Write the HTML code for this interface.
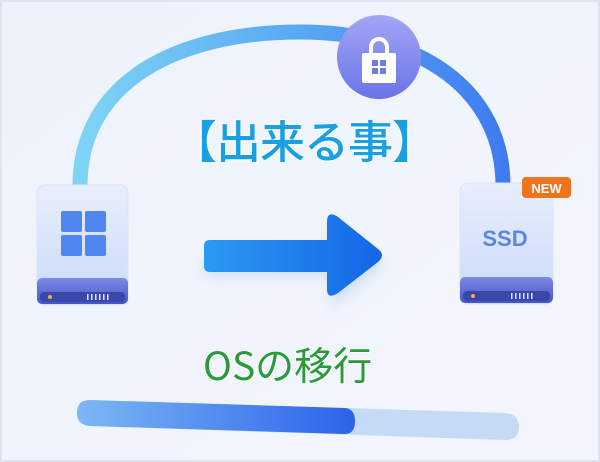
<!DOCTYPE html>
<html><head><meta charset="utf-8"><style>
html,body{margin:0;padding:0}
body{width:600px;height:462px;overflow:hidden;background:#eef3fb;position:relative;font-family:"Liberation Sans","Noto Sans CJK JP",sans-serif}
.t{position:absolute;white-space:nowrap}
</style></head><body>
<svg width="600" height="462" style="position:absolute;left:0;top:0">
<defs>
<linearGradient id="bg" x1="0" y1="0" x2="1" y2="1"><stop offset="0" stop-color="#eef2fb"/><stop offset="1" stop-color="#f3f6fc"/></linearGradient>
<linearGradient id="arc" x1="0" y1="0" x2="1" y2="0"><stop offset="0" stop-color="#7fd4f5"/><stop offset="0.5" stop-color="#5aaaf3"/><stop offset="1" stop-color="#3f7cf0"/></linearGradient>
<linearGradient id="lock" x1="0" y1="0" x2="0" y2="1"><stop offset="0" stop-color="#a3a6f5"/><stop offset="1" stop-color="#6b74e8"/></linearGradient>
<linearGradient id="drv" x1="0" y1="0" x2="0" y2="1"><stop offset="0" stop-color="#e8eefc"/><stop offset="1" stop-color="#cbdaf8"/></linearGradient>
<linearGradient id="base" x1="0" y1="0" x2="0" y2="1"><stop offset="0" stop-color="#7d89e6"/><stop offset="1" stop-color="#4655c4"/></linearGradient>
<linearGradient id="arr" x1="0" y1="0" x2="1" y2="0"><stop offset="0" stop-color="#2b9af0"/><stop offset="1" stop-color="#1466e6"/></linearGradient>
<linearGradient id="bar" x1="0" y1="0" x2="1" y2="0"><stop offset="0" stop-color="#7cb8f4"/><stop offset="1" stop-color="#2a63ea"/></linearGradient>
<filter id="sh" x="-30%" y="-30%" width="160%" height="160%"><feGaussianBlur stdDeviation="6"/></filter>
</defs>
<rect x="0" y="0" width="600" height="462" fill="url(#bg)"/>
<rect x="1" y="1" width="598" height="460" fill="none" stroke="#dfe5ef" stroke-width="2"/>
<path d="M80 186 C80 80 180 32 300 32 C420 32 503 90 503 186" fill="none" stroke="url(#arc)" stroke-width="15"/>
<circle cx="379" cy="57" r="42" fill="url(#lock)"/>
<path d="M371 54 v-7 a8 8 0 0 1 16 0 v7" fill="none" stroke="#fff" stroke-width="4"/>
<rect x="362" y="53" width="34" height="30" rx="2" fill="#fff"/>
<rect x="372" y="60" width="6" height="6" fill="#7079e8"/><rect x="380" y="60" width="6" height="6" fill="#7079e8"/>
<rect x="372" y="68" width="6" height="6" fill="#7079e8"/><rect x="380" y="68" width="6" height="6" fill="#7079e8"/>
<rect x="37" y="185" width="91" height="120" rx="8" fill="url(#drv)" stroke="#dbe4f7"/>
<rect x="37" y="278" width="91" height="26" rx="5" fill="url(#base)"/>
<rect x="40" y="292" width="85" height="10" rx="4" fill="#3a47a8"/>
<circle cx="50" cy="297" r="2" fill="#f0b040"/>
<g fill="#dfe6ff"><rect x="87" y="294" width="1.5" height="6"/><rect x="91" y="294" width="1.5" height="6"/><rect x="95" y="294" width="1.5" height="6"/><rect x="99" y="294" width="1.5" height="6"/><rect x="103" y="294" width="1.5" height="6"/><rect x="107" y="294" width="1.5" height="6"/></g>
<g fill="#4f86ef"><rect x="61" y="211" width="21" height="21" rx="2"/><rect x="85" y="211" width="21" height="21" rx="2"/><rect x="61" y="235" width="21" height="21" rx="2"/><rect x="85" y="235" width="21" height="21" rx="2"/></g>
<rect x="460" y="183" width="93" height="121" rx="8" fill="url(#drv)" stroke="#dbe4f7"/>
<rect x="460" y="277" width="93" height="26" rx="5" fill="url(#base)"/>
<rect x="463" y="291" width="87" height="10" rx="4" fill="#3a47a8"/>
<circle cx="473" cy="296" r="2" fill="#f0b040"/>
<g fill="#dfe6ff"><rect x="511" y="293" width="1.5" height="6"/><rect x="515" y="293" width="1.5" height="6"/><rect x="519" y="293" width="1.5" height="6"/><rect x="523" y="293" width="1.5" height="6"/><rect x="527" y="293" width="1.5" height="6"/><rect x="531" y="293" width="1.5" height="6"/></g>
<text x="505" y="246" text-anchor="middle" font-family="Liberation Sans" font-weight="bold" font-size="22" fill="#5c86e4">SSD</text>
<rect x="522" y="177" width="49" height="21" rx="4" fill="#f0731e"/>
<text x="546.5" y="193" text-anchor="middle" font-family="Liberation Sans" font-weight="bold" font-size="13" fill="#fff">NEW</text>
<path d="M210 250 L330 250 L330 222 Q330 212 340 219 L378 250 Q385 256 378 262 L340 293 Q330 300 330 290 L330 268 L210 268 Q204 268 204 262 L204 256 Q204 250 210 250Z" fill="#8fb6f0" opacity="0.35" filter="url(#sh)" transform="translate(0,8)"/>
<path d="M210 240 L327 240 L327 222 Q327 210 338 217 L378 249 Q386 255 378 262 L338 293 Q327 300 327 289 L327 272 L210 272 Q204 272 204 266 L204 246 Q204 240 210 240Z" fill="url(#arr)"/>
<path d="M90 400 L505 413 Q519 414 519 427 Q519 440 505 440 L90 426 Q77 425 77 413 Q77 400 90 400Z" fill="#c5daf5"/>
<path d="M90 400 L345 408 Q355 409 355 421 Q355 434 345 434 L90 426 Q77 425 77 413 Q77 400 90 400Z" fill="url(#bar)"/>
</svg>
<div class="t" style="left:172px;top:106px;font-size:45px;font-weight:500;color:#18a0e2;text-shadow:0 0 2px #fff,0 0 2px #fff,1px 1px 1px #fff,-1px -1px 1px #fff;font-family:'Noto Sans CJK JP',sans-serif;letter-spacing:-1px">【出来る事】</div>
<div class="t" style="left:203px;top:336px;font-size:39px;color:#2a9a3a;text-shadow:0 0 2px #fff,1px 1px 1px #fff;font-family:'Noto Sans CJK JP',sans-serif">OSの移行</div>
</body></html>
